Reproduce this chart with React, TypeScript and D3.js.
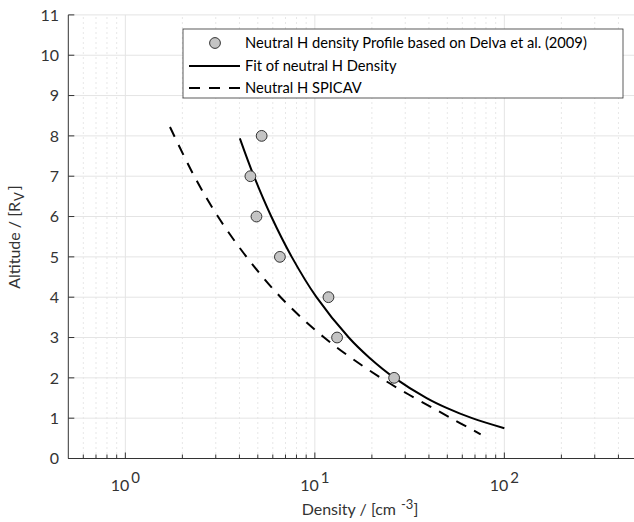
import React from 'react';
import * as d3 from 'd3';

// values
const altitudeTicks = [0, 1, 2, 3, 4, 5, 6, 7, 8, 9, 10, 11];
const densityTicks = [1, 10, 100];
const densityExponents = ['0', '1', '2'];
const densityMinor = [0.6, 0.7, 0.8, 0.9, 2, 3, 4, 5, 6, 7, 8, 9, 20, 30, 40, 50, 60, 70, 80, 90, 200, 300, 400, 500];

const profileAltitude = [8, 7, 6, 5, 4, 3, 2];
const profileDensity = [5.24, 4.57, 4.92, 6.54, 11.8, 13.1, 26.2];

const fitAltitude = [7.94, 7, 6, 5, 4, 3, 2.5, 2, 1.5, 1.25, 1, 0.75];
const fitDensity = [4.02, 4.77, 5.89, 7.55, 10.2, 15.1, 19.4, 26.3, 38.9, 49.9, 67.6, 100];

const spicavAltitude = [8.22, 7, 6, 5, 4, 3, 2, 1, 0.6];
const spicavDensity = [1.72, 2.31, 3.08, 4.36, 6.6, 11.2, 22.3, 52.4, 75];

const legendLabels = [
  'Neutral H density Profile based on Delva et al. (2009)',
  'Fit of neutral H Density',
  'Neutral H SPICAV',
];

const W = 634;
const H = 522;
const FONT = 'Lato, "Open Sans", sans-serif';
const AXIS = '#333';

const App = () => {
  const x = d3.scaleLog().domain([0.5, 500]).range([68.3, 636.8]);
  const y = d3.scaleLinear().domain([0, 11]).range([458.5, 14.9]);
  const x0 = x.range()[0];
  const y0 = y.range()[0];

  const line = d3
    .line<[number, number]>()
    .x(d => x(d[0]))
    .y(d => y(d[1]))
    .curve(d3.curveCatmullRom.alpha(0.5));

  const fitPts = fitDensity.map((d, i) => [d, fitAltitude[i]] as [number, number]);
  const spicavPts = spicavDensity.map((d, i) => [d, spicavAltitude[i]] as [number, number]);

  const lg = { x: 183, y: 29, w: 440, h: 69 };
  const rows = [43, 66, 88];

  return (
    <svg width={W} height={H} style={{ position: 'absolute', left: 0, top: 0 }} fontFamily={FONT}>
      <rect width={W} height={H} fill="#fff" />
      {/* minor grid */}
      {densityMinor.map(v => (
        <line key={'m' + v} x1={x(v)} x2={x(v)} y1={y0} y2={y(11)} stroke="#cfcfcf" strokeWidth={1} strokeDasharray="1,4" />
      ))}
      {/* major grid */}
      {densityTicks.map(v => (
        <line key={'g' + v} x1={x(v)} x2={x(v)} y1={y0} y2={y(11)} stroke="#e4e4e4" strokeWidth={1} />
      ))}
      {altitudeTicks.map(v => (
        <line key={'h' + v} x1={x0} x2={W} y1={y(v)} y2={y(v)} stroke="#e4e4e4" strokeWidth={1} />
      ))}

      {/* axes */}
      <line x1={x0} x2={W} y1={y0} y2={y0} stroke={AXIS} strokeWidth={1} />
      <line x1={x0} x2={x0} y1={y0} y2={y(11)} stroke={AXIS} strokeWidth={1} />
      {densityMinor.map(v => (
        <line key={'mt' + v} x1={x(v)} x2={x(v)} y1={y0} y2={y0 - 4} stroke={AXIS} strokeWidth={1} />
      ))}
      {densityTicks.map((v, i) => (
        <g key={'xt' + v}>
          <line x1={x(v)} x2={x(v)} y1={y0} y2={y0 - 6} stroke={AXIS} strokeWidth={1} />
          <text x={x(v)} y={491} textAnchor="middle" fontSize={16} fill={AXIS}>
            10
            <tspan dx={2} dy={-8} fontSize={15}>{densityExponents[i]}</tspan>
          </text>
        </g>
      ))}
      {altitudeTicks.map(v => (
        <g key={'yt' + v}>
          <line x1={x0} x2={x0 + 6} y1={y(v)} y2={y(v)} stroke={AXIS} strokeWidth={1} />
          <text x={59} y={y(v)} dy="0.36em" textAnchor="end" fontSize={16} fill={AXIS}>{v}</text>
        </g>
      ))}

      <text x={360} y={515} textAnchor="middle" fontSize={16} fill={AXIS}>
        Density / [cm
        <tspan dx={5} dy={-6} fontSize={13}>-3</tspan>
        <tspan dy={6}>]</tspan>
      </text>
      <text transform="translate(20,237) rotate(-90)" textAnchor="middle" fontSize={16} fill={AXIS}>
        Altitude / [R
        <tspan dx={1} dy={4} fontSize={13}>V</tspan>
        <tspan dx={2} dy={-4}>]</tspan>
      </text>

      {/* series */}
      <path d={line(spicavPts) || ''} fill="none" stroke="#000" strokeWidth={2} strokeDasharray="11,9" />
      <path d={line(fitPts) || ''} fill="none" stroke="#000" strokeWidth={2} />
      {profileDensity.map((d, i) => (
        <circle key={'p' + i} cx={x(d)} cy={y(profileAltitude[i])} r={5.4} fill="#c4c4c4" stroke="#333" strokeWidth={1} />
      ))}

      {/* legend */}
      <rect x={lg.x} y={lg.y} width={lg.w} height={lg.h} fill="#fff" stroke="#333" strokeWidth={0.8} />
      <circle cx={215} cy={rows[0]} r={5.4} fill="#c4c4c4" stroke="#333" strokeWidth={1} />
      <line x1={189} x2={240} y1={rows[1]} y2={rows[1]} stroke="#000" strokeWidth={2} />
      <line x1={189} x2={240} y1={rows[2]} y2={rows[2]} stroke="#000" strokeWidth={2} strokeDasharray="11,9" />
      {legendLabels.map((t, i) => (
        <text key={t} x={245} y={rows[i]} dy="0.35em" fontSize={14.7} fill="#000">{t}</text>
      ))}
    </svg>
  );
};

export default App;
